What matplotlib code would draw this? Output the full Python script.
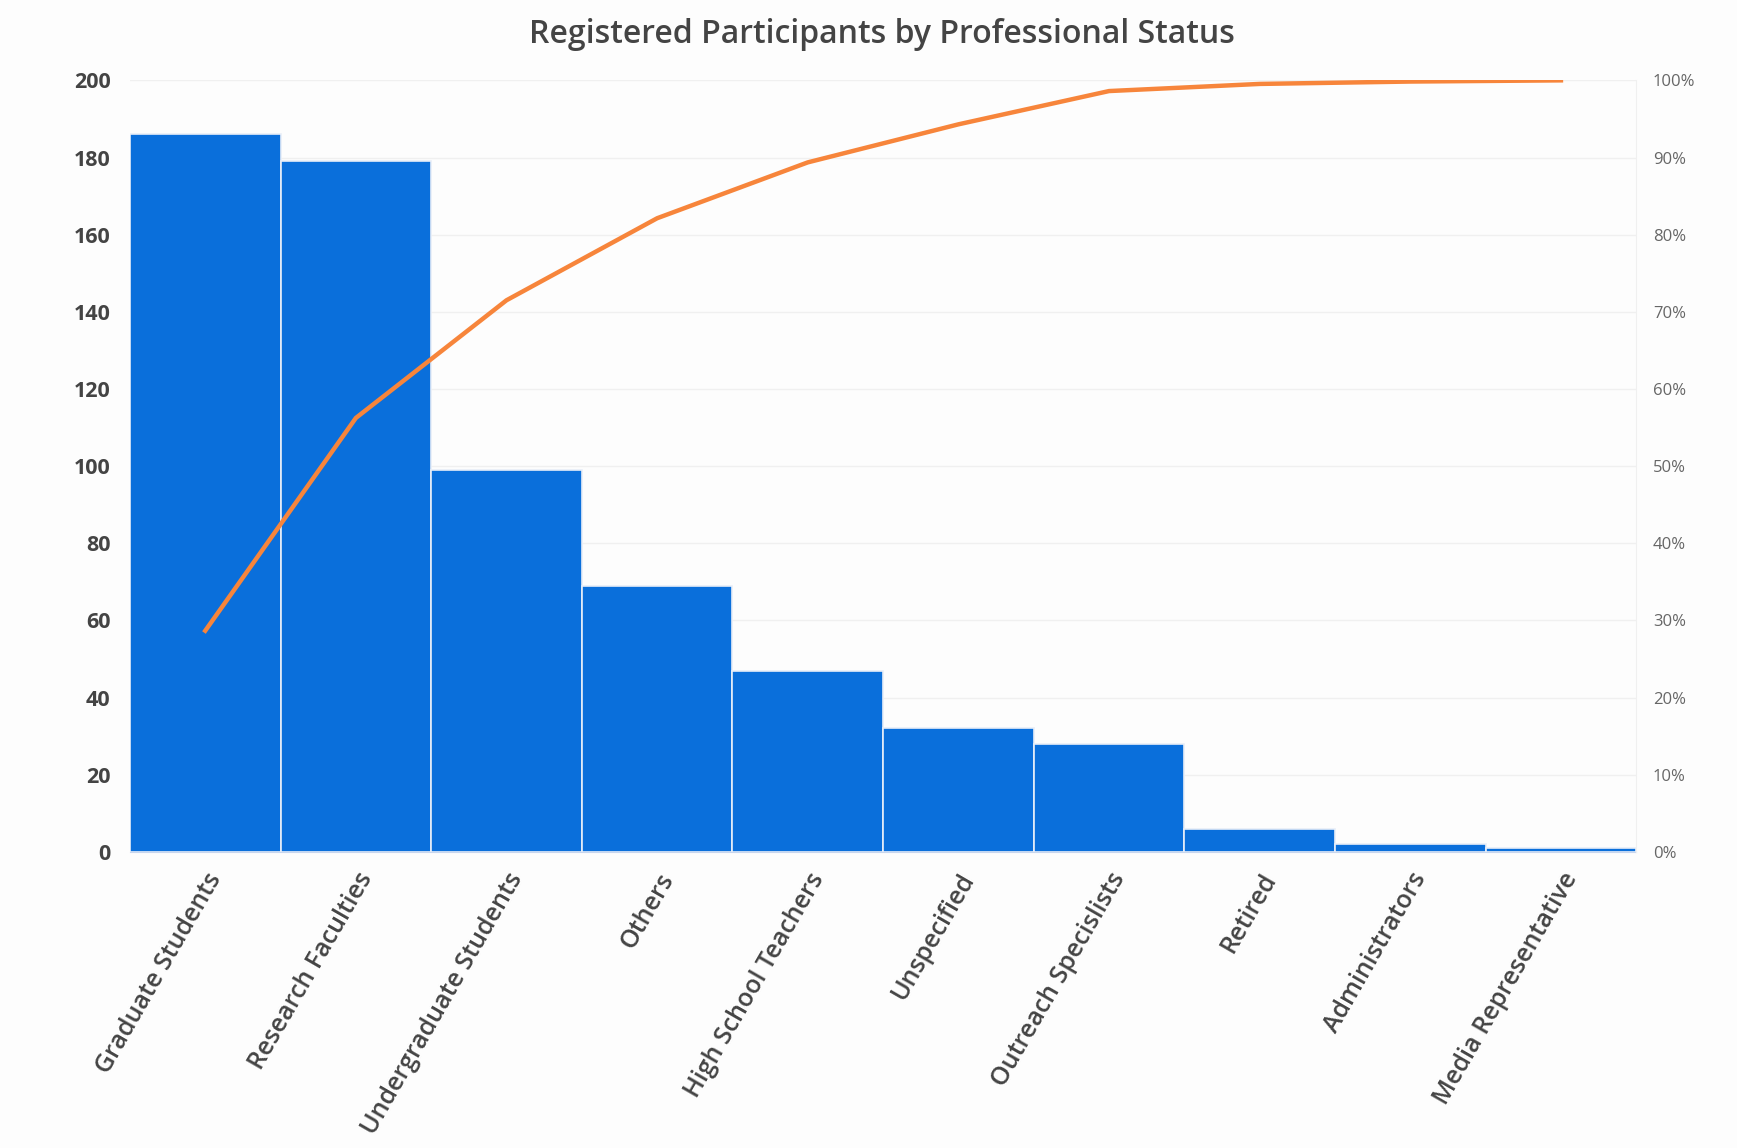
import numpy as np
import matplotlib.pyplot as plt
from matplotlib.ticker import PercentFormatter

categories = ["Graduate Students", "Research Faculties", "Undergraduate Students",
              "Others", "High School Teachers", "Unspecified", "Outreach Specislists",
              "Retired", "Administrators", "Media Representative"]
counts = [186, 179, 99, 69, 47, 32, 28, 6, 2, 1]

cum_share = np.cumsum(counts) / sum(counts)

plt.rcParams['font.family'] = ['Open Sans', 'DejaVu Sans']

fig = plt.figure(figsize=(17.37, 11.48), dpi=100, facecolor='#fdfdfd')
ax = fig.add_axes([0.0748, 0.258, 0.8672, 0.672])
ax.set_facecolor('#fdfdfd')

x = np.arange(len(categories))
ax.bar(x, counts, width=1.0, color='#0a6fdb', edgecolor='#e8eef8', linewidth=1.2, zorder=2)
ax.set_xlim(-0.5, len(categories) - 0.5)
ax.set_ylim(0, 200)
ax.set_yticks(range(0, 201, 20))
ax.grid(axis='y', color='#f0f0f0', linewidth=1, zorder=0)
for s in ['top', 'right', 'left']:
    ax.spines[s].set_visible(False)
ax.spines['bottom'].set_color('#c8d6ee')
ax.tick_params(axis='both', length=0)
ax.tick_params(axis='y', labelsize=15.5, labelcolor='#444444', pad=14)
for lbl in ax.get_yticklabels():
    lbl.set_fontweight('bold')
ax.set_xticks(x)
ax.set_xticklabels(categories, rotation=60, ha='right', rotation_mode='anchor',
                   fontsize=18, color='#444444', fontweight='semibold')
ax.tick_params(axis='x', pad=12)

ax2 = ax.twinx()
ax2.plot(x, cum_share, color='#f7853b', linewidth=3.2, zorder=3)
ax2.set_ylim(0, 1)
ax2.set_yticks(np.arange(0, 1.01, 0.1))
ax2.yaxis.set_major_formatter(PercentFormatter(1.0, decimals=0))
ax2.tick_params(axis='y', length=0, labelsize=12, labelcolor='#666666', pad=12)
for s in ['top', 'left', 'bottom']:
    ax2.spines[s].set_visible(False)
ax2.spines['right'].set_color('#f0f0f0')

fig.suptitle("Registered Participants by Professional Status", x=0.508, y=0.970, va='center',
             fontsize=23, fontweight='semibold', color='#444444')

plt.savefig("out.png", dpi=100, facecolor=fig.get_facecolor())
